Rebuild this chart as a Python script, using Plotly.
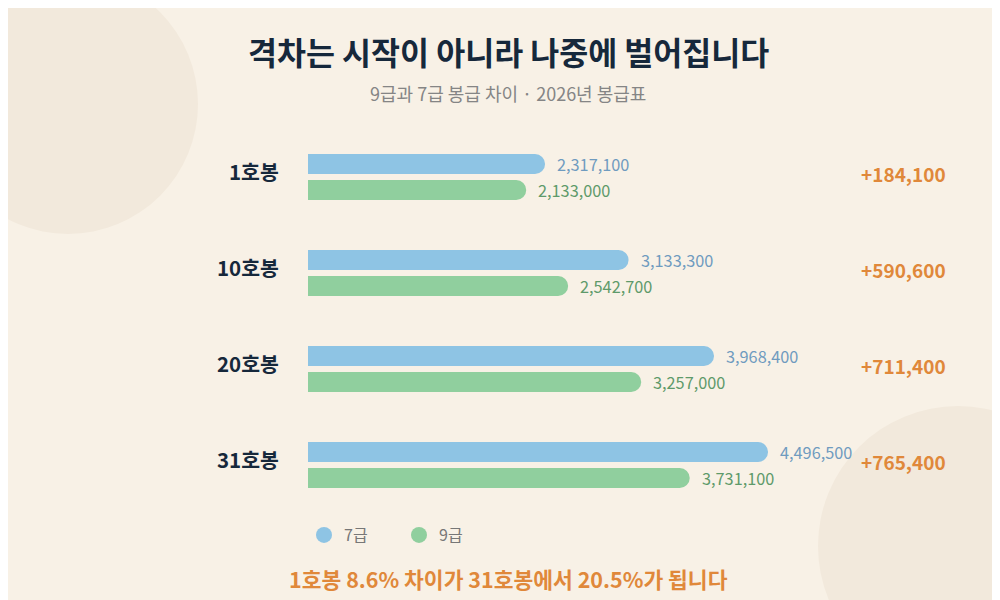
import plotly.graph_objects as go

# 봉급 데이터 (2026년 봉급표)
steps = ["1호봉", "10호봉", "20호봉", "31호봉"]
grade7 = [2317100, 3133300, 3968400, 4496500]
grade9 = [2133000, 2542700, 3257000, 3731100]
diffs = [a - b for a, b in zip(grade7, grade9)]

title = "격차는 시작이 아니라 나중에 벌어집니다"
subtitle = "9급과 7급 봉급 차이 · 2026년 봉급표"
footer = "1호봉 8.6% 차이가 31호봉에서 20.5%가 됩니다"

FONT = "Noto Sans CJK KR"
BG = "#f8f1e6"
BLUE = "#8ec4e4"
GREEN = "#90cf9e"
ORANGE = "#e0883a"
NAVY = "#16283b"

fig = go.Figure()

fig.add_trace(go.Bar(
    y=steps, x=grade7, orientation="h", name="7급",
    marker=dict(color=BLUE, cornerradius=10, line=dict(width=0)),
    showlegend=False, hoverinfo="skip",
))
fig.add_trace(go.Bar(
    y=steps, x=grade9, orientation="h", name="9급",
    marker=dict(color=GREEN, cornerradius=10, line=dict(width=0)),
    showlegend=False, hoverinfo="skip",
))

# legend entries drawn as circles
for name, color in [("7급", BLUE), ("9급", GREEN)]:
    fig.add_trace(go.Scatter(
        x=[None], y=[None], mode="markers", name=name,
        marker=dict(color=color, size=18, symbol="circle"),
    ))

annotations = []
for s, v7, v9, d in zip(steps, grade7, grade9, diffs):
    annotations.append(dict(
        x=0.273, xref="paper", y=s, yref="y", yshift=6,
        text=f"<b>{s}</b>", showarrow=False, xanchor="right",
        font=dict(family=FONT, size=20.5, color=NAVY),
    ))
    annotations.append(dict(
        x=v7, xref="x", y=s, yref="y", yshift=13, xshift=10,
        text=f"{v7:,}", showarrow=False, xanchor="left",
        font=dict(family=FONT, size=16.3, color="#6f9bbf"),
    ))
    annotations.append(dict(
        x=v9, xref="x", y=s, yref="y", yshift=-13, xshift=10,
        text=f"{v9:,}", showarrow=False, xanchor="left",
        font=dict(family=FONT, size=16.3, color="#5e9a6a"),
    ))
    annotations.append(dict(
        x=0.851, xref="paper", y=s, yref="y", yshift=4,
        text=f"<b>+{d:,}</b>", showarrow=False, xanchor="left",
        font=dict(family=FONT, size=19, color=ORANGE),
    ))

annotations += [
    dict(x=0.5, xref="paper", y=1 - 43 / 600, yref="paper",
         yanchor="middle", text=f"<b>{title}</b>", showarrow=False,
         font=dict(family=FONT, size=31.5, color=NAVY)),
    dict(x=0.5, xref="paper", y=1 - 85 / 600, yref="paper",
         yanchor="middle", text=subtitle, showarrow=False,
         font=dict(family=FONT, size=18, color="#858585")),
    dict(x=0.5, xref="paper", y=1 - 570 / 600, yref="paper",
         yanchor="middle", text=f"<b>{footer}</b>", showarrow=False,
         font=dict(family=FONT, size=21.5, color=ORANGE)),
]

shapes = [
    dict(type="circle", xref="paper", yref="paper", layer="below",
         x0=(60 - 130) / 1000, x1=(60 + 130) / 1000,
         y0=1 - (96 + 130) / 600, y1=1 - (96 - 130) / 600,
         fillcolor="#f2e9dc", line=dict(width=0)),
    dict(type="circle", xref="paper", yref="paper", layer="below",
         x0=(950 - 140) / 1000, x1=(950 + 140) / 1000,
         y0=1 - (538 + 140) / 600, y1=1 - (538 - 140) / 600,
         fillcolor="#f2e9dc", line=dict(width=0)),
]

fig.update_layout(
    width=1000, height=600,
    paper_bgcolor=BG, plot_bgcolor="rgba(0,0,0,0)",
    margin=dict(l=0, r=0, t=0, b=0),
    barmode="group", bargap=0.458, bargroupgap=0.23,
    xaxis=dict(domain=[0.3, 0.8], range=[0, 4887000], visible=False),
    yaxis=dict(domain=[95 / 600, 479 / 600], autorange="reversed",
               visible=False),
    legend=dict(orientation="h", x=0.296, y=1 - 527 / 600,
                xanchor="left", yanchor="middle",
                bgcolor="rgba(0,0,0,0)",
                font=dict(family=FONT, size=16, color="#777777"),
                entrywidth=50, entrywidthmode="pixels"),
    annotations=annotations, shapes=shapes,
    font=dict(family=FONT),
)

fig.write_html("out.html")
